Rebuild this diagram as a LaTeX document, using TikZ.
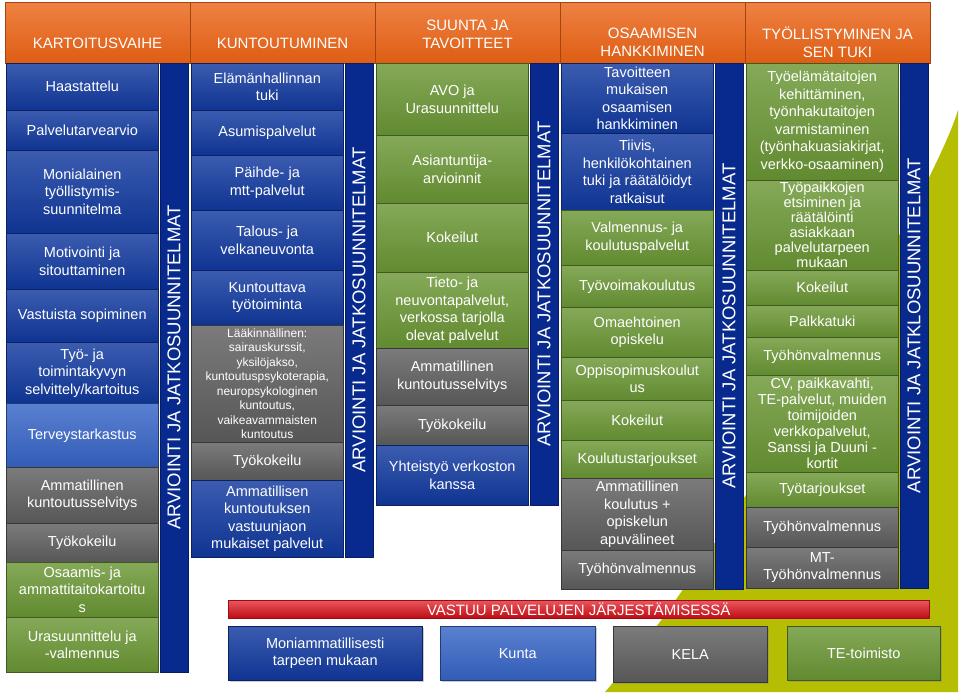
\documentclass[tikz,border=0pt]{standalone}
\usepackage{fontspec}
\setmainfont{Liberation Sans}
\usetikzlibrary{shadows}
\definecolor{corange}{RGB}{234,98,20}
\definecolor{cblue}{RGB}{16,56,158}
\definecolor{clight}{RGB}{54,100,198}
\definecolor{cbar}{RGB}{8,42,142}
\definecolor{cgray}{RGB}{94,94,94}
\definecolor{cgreen}{RGB}{106,150,52}
\definecolor{cred}{RGB}{224,14,24}
\definecolor{colive}{RGB}{182,190,4}

\begin{document}
\begin{tikzpicture}[x=1pt,y=-1pt,
  cell/.style={draw=#1!60!black,line width=0.5pt,top color=#1!82!white,bottom color=#1!92!black,
    text=white,align=center,anchor=north west,inner sep=1pt,minimum width=152,
    font=\fontsize{14.5}{17.5}\selectfont},
  bcell/.style={cell=cblue},
  lcell/.style={cell=clight},
  ycell/.style={cell=cgray},
  gcell/.style={cell=cgreen},
  smalltext/.style={font=\fontsize{12}{14.5}\selectfont},
  tighttext/.style={font=\fontsize{14.5}{15}\selectfont,inner sep=0pt},
  head/.style={draw=corange!70!black,line width=0.5pt,top color=corange!80!white,bottom color=corange!95!black,
    anchor=north west,minimum width=185,minimum height=61,inner sep=0pt},
  headtext/.style={text=white,align=center,font=\fontsize{15}{18}\selectfont},
  vbar/.style={fill=cbar,draw=cbar!70!black,line width=0.5pt,rotate=90,minimum height=28,inner sep=0pt,
    text=white,font=\fontsize{18.5}{20}\selectfont},
  redbar/.style={top color=cred!70!white,bottom color=cred!85!black,draw=cred!70!black,line width=0.5pt,
    anchor=north west,minimum width=701,minimum height=18,inner sep=0pt,text=white,
    font=\fontsize{15}{18}\selectfont},
  base/.style={cell=#1,drop shadow={opacity=0.4,shadow xshift=1.5pt,shadow yshift=-2pt}},
]
\path[use as bounding box,fill=white] (0,0) rectangle (960,694);

% background wedge
\fill[colive] (958,110) .. controls (935,190) and (720,560) .. (605,692) -- (958,692) -- cycle;

% headers
\node[head] (h1) at (5,2) {};
\node[head] (h2) at (190,2) {};
\node[head] (h3) at (375,2) {};
\node[head] (h4) at (560,2) {};
\node[head] (h5) at (745,2) {};
\node[headtext] (h1t) at (97.5,43) {KARTOITUSVAIHE};
\node[headtext] (h2t) at (282.5,43) {KUNTOUTUMINEN};
\node[headtext] (h3t) at (467.5,34) {SUUNTA JA\\TAVOITTEET};
\node[headtext] (h4t) at (652.5,42) {OSAAMISEN\\HANKKIMINEN};
\node[headtext] (h5t) at (837.5,42) {TYÖLLISTYMINEN JA\\SEN TUKI};

% kartoitusvaihe
\node[bcell,minimum height=47] (c1a) at (6,63) {Haastattelu};
\node[bcell,minimum height=40] (c1b) at (6,110) {Palvelutarvearvio};
\node[bcell,minimum height=83] (c1c) at (6,150) {Monialainen\\työllistymis-\\suunnitelma};
\node[bcell,minimum height=56] (c1d) at (6,233) {Motivointi ja\\sitouttaminen};
\node[bcell,minimum height=53] (c1e) at (6,289) {Vastuista sopiminen};
\node[bcell,minimum height=61] (c1f) at (6,342) {Työ- ja\\toimintakyvyn\\selvittely/kartoitus};
\node[lcell,minimum height=64] (c1g) at (6,403) {Terveystarkastus};
\node[ycell,minimum height=56] (c1h) at (6,467) {Ammatillinen\\kuntoutusselvitys};
\node[ycell,minimum height=39] (c1i) at (6,523) {Työkokeilu};
\node[gcell,minimum height=55] (c1j) at (6,562) {Osaamis- ja\\ammattitaitokartoitu\\s};
\node[gcell,minimum height=55] (c1k) at (6,617) {Urasuunnittelu ja\\-valmennus};

% kuntoutuminen
\node[bcell,minimum height=47] (c2a) at (191,63) {Elämänhallinnan\\tuki};
\node[bcell,minimum height=45] (c2b) at (191,110) {Asumispalvelut};
\node[bcell,minimum height=55] (c2c) at (191,155) {Päihde- ja\\mtt-palvelut};
\node[bcell,minimum height=60] (c2d) at (191,210) {Talous- ja\\velkaneuvonta};
\node[bcell,minimum height=55] (c2e) at (191,270) {Kuntouttava\\työtoiminta};
\node[ycell,smalltext,minimum height=117] (c2f) at (191,325) {Lääkinnällinen:\\sairauskurssit,\\yksilöjakso,\\kuntoutuspsykoterapia,\\neuropsykologinen\\kuntoutus,\\vaikeavammaisten\\kuntoutus};
\node[ycell,minimum height=38] (c2g) at (191,442) {Työkokeilu};
\node[bcell,minimum height=77] (c2h) at (191,480) {Ammatillisen\\kuntoutuksen\\vastuunjaon\\mukaiset palvelut};

% suunta ja tavoitteet
\node[gcell,minimum height=72] (c3a) at (376,63) {AVO ja\\Urasuunnittelu};
\node[gcell,minimum height=68] (c3b) at (376,135) {Asiantuntija-\\arvioinnit};
\node[gcell,minimum height=69] (c3c) at (376,203) {Kokeilut};
\node[gcell,minimum height=76] (c3d) at (376,272) {Tieto- ja\\neuvontapalvelut,\\verkossa tarjolla\\olevat palvelut};
\node[ycell,minimum height=57] (c3e) at (376,348) {Ammatillinen\\kuntoutusselvitys};
\node[ycell,minimum height=40] (c3f) at (376,405) {Työkokeilu};
\node[bcell,minimum height=60] (c3g) at (376,445) {Yhteistyö verkoston\\kanssa};

% osaamisen hankkiminen
\node[bcell,minimum height=70] (c4a) at (561,63) {Tavoitteen\\mukaisen\\osaamisen\\hankkiminen};
\node[bcell,minimum height=77] (c4b) at (561,133) {Tiivis,\\henkilökohtainen\\tuki ja räätälöidyt\\ratkaisut};
\node[gcell,minimum height=55] (c4c) at (561,210) {Valmennus- ja\\koulutuspalvelut};
\node[gcell,minimum height=42] (c4d) at (561,265) {Työvoimakoulutus};
\node[gcell,minimum height=50] (c4e) at (561,307) {Omaehtoinen\\opiskelu};
\node[gcell,minimum height=43] (c4f) at (561,357) {Oppisopimuskoulut\\us};
\node[gcell,minimum height=40] (c4g) at (561,400) {Kokeilut};
\node[gcell,minimum height=38] (c4h) at (561,440) {Koulutustarjoukset};
\node[ycell,minimum height=72] (c4i) at (561,478) {Ammatillinen\\koulutus +\\opiskelun\\apuvälineet};
\node[ycell,minimum height=39] (c4j) at (561,550) {Työhönvalmennus};

% tyollistyminen
\node[gcell,minimum height=117] (c5a) at (746,63) {Työelämätaitojen\\kehittäminen,\\työnhakutaitojen\\varmistaminen\\(työnhakuasiakirjat,\\verkko-osaaminen)};
\node[gcell,tighttext,minimum height=90] (c5b) at (746,180) {Työpaikkojen\\etsiminen ja\\räätälöinti\\asiakkaan\\palvelutarpeen\\mukaan};
\node[gcell,minimum height=35] (c5c) at (746,270) {Kokeilut};
\node[gcell,minimum height=32] (c5d) at (746,305) {Palkkatuki};
\node[gcell,minimum height=38] (c5e) at (746,337) {Työhönvalmennus};
\node[gcell,font=\fontsize{14.5}{16}\selectfont,minimum height=97] (c5f) at (746,375) {CV, paikkavahti,\\TE-palvelut, muiden\\toimijoiden\\verkkopalvelut,\\Sanssi ja Duuni -\\kortit};
\node[gcell,minimum height=35] (c5g) at (746,472) {Työtarjoukset};
\node[ycell,minimum height=40] (c5h) at (746,507) {Työhönvalmennus};
\node[ycell,minimum height=41] (c5i) at (746,547) {MT-\\Työhönvalmennus};

% arviointi bars
\node[vbar,minimum width=609] (v1) at (174,367.5) {ARVIOINTI JA JATKOSUUNNITELMAT};
\node[vbar,minimum width=494] (v2) at (359,310) {ARVIOINTI JA JATKOSUUNNITELMAT};
\node[vbar,minimum width=442] (v3) at (544,284) {ARVIOINTI JA JATKOSUUNNITELMAT};
\node[vbar,minimum width=526] (v4) at (729,326) {ARVIOINTI JA JATKOSUUNNITELMAT};
\node[vbar,minimum width=525] (v5) at (914,325.5) {ARVIOINTI JA JATKLOSUUNNITELMAT};

% vastuu
\node[redbar] (vastuu) at (228,600) {VASTUU PALVELUJEN JÄRJESTÄMISESSÄ};
\node[base=cblue,minimum width=194,minimum height=54] (moni) at (228,626) {Moniammatillisesti\\tarpeen mukaan};
\node[base=clight,minimum width=155,minimum height=54] (kunta) at (440,626) {Kunta};
\node[base=cgray,minimum width=154,minimum height=56] (kela) at (613,626) {KELA};
\node[base=cgreen,minimum width=153,minimum height=54] (te) at (787,626) {TE-toimisto};
\end{tikzpicture}
\end{document}
